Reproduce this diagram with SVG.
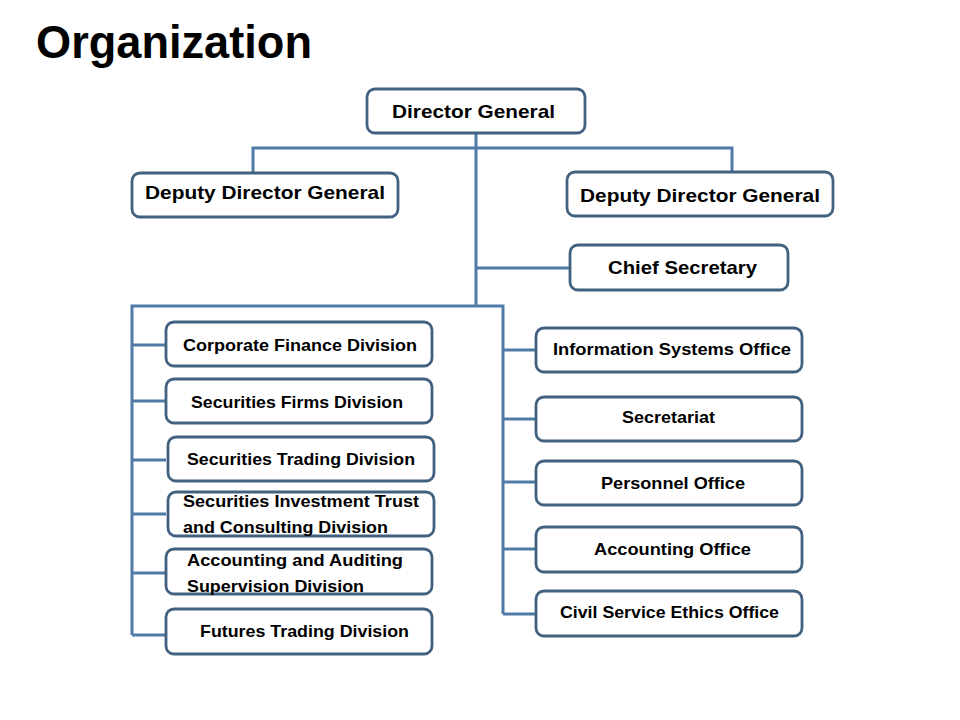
<svg xmlns="http://www.w3.org/2000/svg" width="960" height="720" viewBox="0 0 960 720">
<style>
.box{fill:#fff;stroke:#42607f;stroke-width:2.8}
.t{font-family:"Liberation Sans",Arial,sans-serif;font-weight:bold;fill:#000;font-size:17px}
.big{font-size:19px}
.c{fill:none;stroke:#4f7ba6;stroke-width:3}
</style>
<rect width="960" height="720" fill="#fff"/>
<text x="36" y="58" class="t" style="font-size:46px" textLength="276" lengthAdjust="spacingAndGlyphs">Organization</text>
<g id="connectors">
<path class="c" d="M476 133V306M253 173V148H732V172M476 268H570M132 635V306H503V614"/>
<path class="c" d="M132 345H166M132 401H166M132 460H166M132 514H166M132 573H166M132 635H166"/>
<path class="c" d="M503 350H536M503 419H536M503 482H536M503 549H536M503 614H536"/>
</g>
<g id="dg"><rect class="box" x="367" y="89" width="218" height="44" rx="8"/><text class="t big" x="392" y="118" textLength="163" lengthAdjust="spacingAndGlyphs">Director General</text></g>
<g id="ddg1"><rect class="box" x="132" y="173" width="266" height="44" rx="8"/><text class="t big" x="145" y="199" textLength="240" lengthAdjust="spacingAndGlyphs">Deputy Director General</text></g>
<g id="ddg2"><rect class="box" x="567" y="172" width="266" height="44" rx="8"/><text class="t big" x="580" y="202" textLength="240" lengthAdjust="spacingAndGlyphs">Deputy Director General</text></g>
<g id="cs"><rect class="box" x="570" y="245" width="218" height="45" rx="8"/><text class="t big" x="608" y="274" textLength="149" lengthAdjust="spacingAndGlyphs">Chief Secretary</text></g>
<g id="l1"><rect class="box" x="166" y="322" width="266" height="44" rx="8"/><text class="t" x="183" y="351" textLength="234" lengthAdjust="spacingAndGlyphs">Corporate  Finance Division</text></g>
<g id="l2"><rect class="box" x="166" y="379" width="266" height="44" rx="8"/><text class="t" x="191" y="408" textLength="212" lengthAdjust="spacingAndGlyphs">Securities  Firms Division</text></g>
<g id="l3"><rect class="box" x="168" y="437" width="266" height="44" rx="8"/><text class="t" x="187" y="465" textLength="228" lengthAdjust="spacingAndGlyphs">Securities  Trading  Division</text></g>
<g id="l4"><rect class="box" x="168" y="492" width="266" height="44" rx="8"/><text class="t" x="183" y="507" textLength="236" lengthAdjust="spacingAndGlyphs">Securities  Investment Trust</text><text class="t" x="183" y="533" textLength="205" lengthAdjust="spacingAndGlyphs">and Consulting  Division</text></g>
<g id="l5"><rect class="box" x="166" y="549" width="266" height="45" rx="8"/><text class="t" x="187" y="566" textLength="216" lengthAdjust="spacingAndGlyphs">Accounting  and  Auditing</text><text class="t" x="187" y="592" textLength="177" lengthAdjust="spacingAndGlyphs">Supervision  Division</text></g>
<g id="l6"><rect class="box" x="166" y="609" width="266" height="45" rx="8"/><text class="t" x="200" y="637" textLength="209" lengthAdjust="spacingAndGlyphs">Futures Trading  Division</text></g>
<g id="r1"><rect class="box" x="536" y="328" width="266" height="44" rx="8"/><text class="t" x="553" y="355" textLength="238" lengthAdjust="spacingAndGlyphs">Information  Systems Office</text></g>
<g id="r2"><rect class="box" x="536" y="397" width="266" height="44" rx="8"/><text class="t" x="622" y="423" textLength="93" lengthAdjust="spacingAndGlyphs">Secretariat</text></g>
<g id="r3"><rect class="box" x="536" y="461" width="266" height="44" rx="8"/><text class="t" x="601" y="489" textLength="144" lengthAdjust="spacingAndGlyphs">Personnel  Office</text></g>
<g id="r4"><rect class="box" x="536" y="527" width="266" height="45" rx="8"/><text class="t" x="594" y="555" textLength="157" lengthAdjust="spacingAndGlyphs">Accounting  Office</text></g>
<g id="r5"><rect class="box" x="536" y="591" width="266" height="45" rx="8"/><text class="t" x="560" y="618" textLength="219" lengthAdjust="spacingAndGlyphs">Civil Service  Ethics Office</text></g>
</svg>
